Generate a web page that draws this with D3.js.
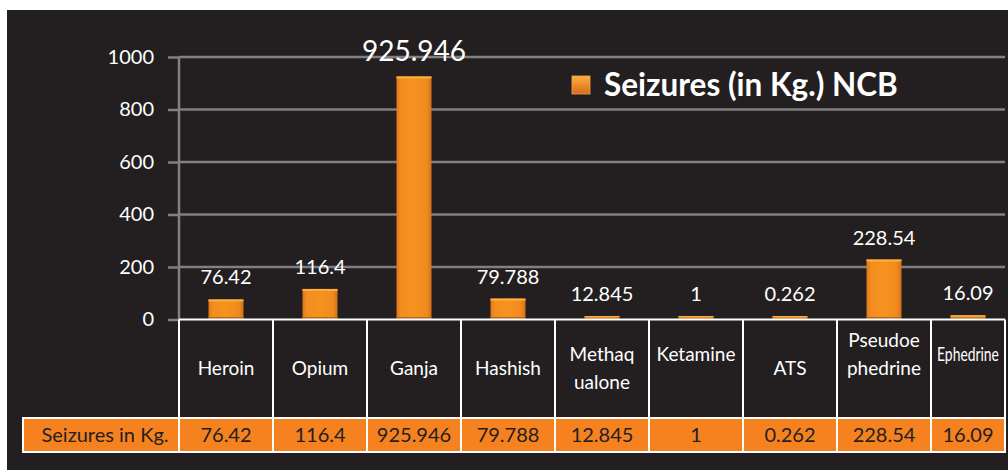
<!DOCTYPE html>
<html>
<head>
<meta charset="utf-8">
<script src="https://cdn.jsdelivr.net/npm/d3@7"></script>
<style>
  html, body { margin: 0; padding: 0; background: #fff; }
  svg { display: block; font-family: Lato, "Open Sans", sans-serif; }
</style>
</head>
<body>
<svg id="chart" width="1008" height="470"></svg>
<script>
// data
const categories = ["Heroin", "Opium", "Ganja", "Hashish", "Methaqualone", "Ketamine", "ATS", "Pseudoephedrine", "Ephedrine"]
// header cell text as it wraps in the table (trailing "" = empty line)
const categoryLines = [["Heroin"], ["Opium"], ["Ganja"], ["Hashish"], ["Methaq", "ualone"], ["Ketamine", ""], ["ATS"], ["Pseudoe", "phedrine", ""], ["Ephedrine", ""]]
const seizures = [76.42, 116.4, 925.946, 79.788, 12.845, 1, 0.262, 228.54, 16.09]
const seizureLabels = ["76.42", "116.4", "925.946", "79.788", "12.845", "1", "0.262", "228.54", "16.09"]
const yTicks = [0, 200, 400, 600, 800, 1000]
const seriesName = "Seizures (in Kg.) NCB"
const rowName = "Seizures in Kg."

const svg = d3.select("#chart")
const W = 1008, H = 470
const bg = "#231f20"

// white page edge + dark panel
svg.append("rect").attr("width", W).attr("height", H).attr("fill", "#fff")
svg.append("rect").attr("x", 7).attr("y", 10).attr("width", W - 7).attr("height", H - 10).attr("fill", bg)

const plot = {left: 179, right: 1005, top: 57, bottom: 319.5}
const colW = 94

const x = d3.scaleBand()
  .domain(categories)
  .range([plot.left, plot.left + colW * categories.length])
  .paddingInner(0).paddingOuter(0)

const y = d3.scaleLinear()
  .domain([0, 1000])
  .range([plot.bottom, plot.top])

// visible cell (last column is cut by the panel edge)
const cellL = c => x(c)
const cellR = c => Math.min(x(c) + x.bandwidth(), plot.right)
const cellC = c => (cellL(c) + cellR(c)) / 2

const defs = svg.append("defs")
const barGrad = defs.append("linearGradient").attr("id", "barGrad").attr("x1", 0).attr("x2", 1).attr("y1", 0).attr("y2", 0)
barGrad.append("stop").attr("offset", "0%").attr("stop-color", "#dc761c")
barGrad.append("stop").attr("offset", "12%").attr("stop-color", "#f28d1e")
barGrad.append("stop").attr("offset", "50%").attr("stop-color", "#f6931f")
barGrad.append("stop").attr("offset", "88%").attr("stop-color", "#ef891e")
barGrad.append("stop").attr("offset", "100%").attr("stop-color", "#d26e1b")
const legGrad = defs.append("linearGradient").attr("id", "legGrad").attr("x1", 0).attr("x2", 0).attr("y1", 0).attr("y2", 1)
legGrad.append("stop").attr("offset", "0%").attr("stop-color", "#fbb040")
legGrad.append("stop").attr("offset", "100%").attr("stop-color", "#d9691a")

// gridlines + y axis
const yAxis = d3.axisLeft(y).tickValues(yTicks).tickFormat(d3.format("d")).tickSize(11).tickPadding(14)
const gy = svg.append("g").attr("transform", `translate(${plot.left},0)`).call(yAxis)
gy.select(".domain").remove()
gy.selectAll(".tick line").attr("stroke", "#808080").attr("stroke-width", 2.5)
gy.selectAll(".tick text").attr("fill", "#fff").attr("font-size", 20).attr("font-family", "Lato, sans-serif")

svg.append("g").selectAll("line")
  .data(yTicks.filter(t => t > 0))
  .join("line")
  .attr("x1", plot.left).attr("x2", plot.right)
  .attr("y1", d => y(d)).attr("y2", d => y(d))
  .attr("stroke", "#808080").attr("stroke-width", 2.5)

svg.append("line")
  .attr("x1", plot.left).attr("x2", plot.left)
  .attr("y1", y(1000)).attr("y2", plot.bottom)
  .attr("stroke", "#808080").attr("stroke-width", 2.5)

// bars
const barW = 35
const minH = 3.5
const barH = v => Math.max(y(0) - y(v), minH)
const rows = categories.map((c, i) => ({c, v: seizures[i], label: seizureLabels[i]}))
const bars = svg.append("g").selectAll("g")
  .data(rows)
  .join("g")
  .attr("transform", d => `translate(${cellC(d.c) - barW / 2},${y(0) - barH(d.v)})`)
bars.append("rect")
  .attr("width", barW)
  .attr("height", d => barH(d.v))
  .attr("fill", "url(#barGrad)")
bars.append("rect")
  .attr("width", barW)
  .attr("height", d => Math.min(2, barH(d.v) / 3))
  .attr("fill", "#fbb040")
bars.append("rect")
  .attr("y", d => barH(d.v) - Math.min(2.5, barH(d.v) / 2))
  .attr("width", barW)
  .attr("height", d => Math.min(2.5, barH(d.v) / 2))
  .attr("fill", "#a9601f")
  .attr("opacity", 0.85)

// value labels above bars
const maxV = d3.max(seizures)
svg.append("g").selectAll("text")
  .data(rows)
  .join("text")
  .attr("x", d => cellC(d.c))
  .attr("y", d => y(0) - barH(d.v) - 15)
  .attr("text-anchor", "middle")
  .attr("fill", "#fff")
  .attr("font-size", d => d.v === maxV ? 28 : 20)
  .text(d => d.label)

// table: header row of category names
const headTop = plot.bottom, headBot = 418, rowBot = 452
const lineH = 28
const heads = svg.append("g").selectAll("text")
  .data(categories.map((c, i) => ({c, lines: categoryLines[i]})))
  .join("text")
  .attr("text-anchor", "middle")
  .attr("fill", "#fff")
  .attr("font-size", 19)
heads.each(function(d) {
  const t = d3.select(this)
  const n = d.lines.length
  const cx = cellC(d.c)
  d.lines.forEach((ln, k) => {
    t.append("tspan")
      .attr("x", cx)
      .attr("y", (headTop + headBot) / 2 + (k - (n - 1) / 2) * lineH)
      .attr("dy", "0.35em")
      .text(ln)
  })
  // squeeze horizontally to fit the cell
  const maxW = cellR(d.c) - cellL(d.c) - 12
  const w = this.getBBox().width
  if (w > maxW) {
    const k = maxW / w
    t.attr("transform", `translate(${cx},0) scale(${k},1) translate(${-cx},0)`)
  }
})

// value row
svg.append("rect")
  .attr("x", 23).attr("y", headBot)
  .attr("width", plot.right - 23).attr("height", rowBot - headBot)
  .attr("fill", "#f5821f")

svg.append("text")
  .attr("x", (23 + plot.left) / 2 + 4).attr("y", (headBot + rowBot) / 2)
  .attr("dy", "0.35em").attr("text-anchor", "middle")
  .attr("fill", bg).attr("font-size", 20)
  .text(rowName)

svg.append("g").selectAll("text")
  .data(rows)
  .join("text")
  .attr("x", d => cellC(d.c)).attr("y", (headBot + rowBot) / 2)
  .attr("dy", "0.35em").attr("text-anchor", "middle")
  .attr("fill", bg).attr("font-size", 20)
  .text(d => d.label)

// table borders
const border = svg.append("g").attr("stroke", "#fff").attr("stroke-width", 2).attr("fill", "none")
border.append("line").attr("x1", plot.left).attr("x2", plot.right).attr("y1", headTop).attr("y2", headTop)
border.append("rect").attr("x", 23).attr("y", headBot).attr("width", plot.right - 23).attr("height", rowBot - headBot)
border.selectAll("line.v")
  .data(categories.map(c => cellL(c)).concat([plot.right]))
  .join("line").attr("class", "v")
  .attr("x1", d => d).attr("x2", d => d)
  .attr("y1", headTop).attr("y2", rowBot)

// legend
svg.append("rect").attr("x", 572).attr("y", 76).attr("width", 18).attr("height", 18)
  .attr("fill", "url(#legGrad)").attr("stroke", "#f7a540").attr("stroke-width", 0.8)
svg.append("text").attr("x", 604).attr("y", 85).attr("dy", "0.35em")
  .attr("fill", "#fff").attr("font-size", 31.5).attr("font-weight", "bold")
  .text(seriesName)
</script>
</body>
</html>
